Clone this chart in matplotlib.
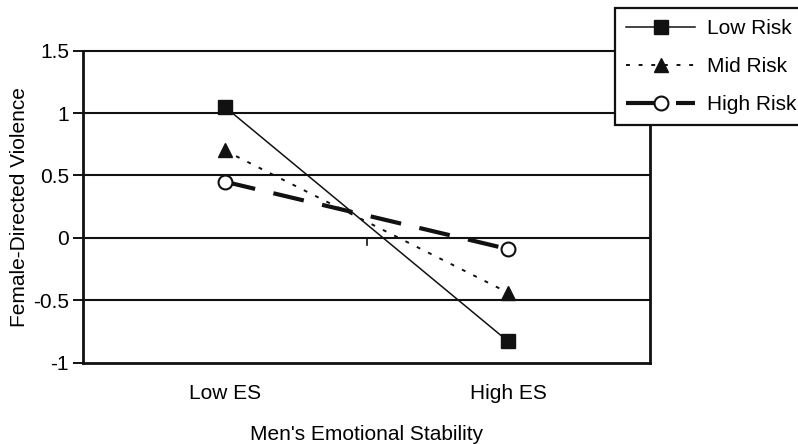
import matplotlib.pyplot as plt
import numpy as np

plt.rcParams['font.family'] = ['Liberation Sans', 'DejaVu Sans']

# данные графика
categories = ["Low ES", "High ES"]
low_risk = [1.05, -0.83]
mid_risk = [0.70, -0.44]
high_risk = [0.45, -0.09]
y_ticks = [-1, -0.5, 0, 0.5, 1, 1.5]
y_tick_labels = ["-1", "-0.5", "0", "0.5", "1", "1.5"]

fig = plt.figure(figsize=(7.98, 4.44), dpi=100)
ax = fig.add_axes([83 / 798, 1 - 362.7 / 444, 567 / 798, 312.1 / 444])

x = np.arange(len(categories)) + 0.5

# сетка и ось x на нуле
for yv in y_ticks[1:]:
    ax.axhline(yv, color='#111111', lw=1.5, zorder=1, clip_on=False)
ax.plot([1, 1], [0, -0.055], color='#111111', lw=1.2, clip_on=False, zorder=1)

# линии
ax.plot(x, low_risk, color='#111111', lw=1.1, marker='s', ms=10.5,
        mfc='#111111', mec='#111111', label="Low Risk", zorder=3)
ax.plot(x, mid_risk, color='#111111', lw=1.4, dashes=(2, 4.5), marker='^', ms=10.5,
        mfc='#111111', mec='#111111', label="Mid Risk", zorder=3)
ax.plot(x, high_risk, color='#111111', lw=3.0, dashes=(7.5, 4.5), marker='o', ms=10,
        mfc='white', mec='#111111', mew=1.5, label="High Risk", zorder=4)

ax.set_xlim(0, 2)
ax.set_ylim(-1, 1.5)
ax.set_xticks(x)
ax.set_xticklabels(categories, fontsize=15)
ax.tick_params(axis='x', length=0, pad=15)
ax.set_yticks(y_ticks)
ax.set_yticklabels(y_tick_labels, fontsize=15)
ax.tick_params(axis='y', length=7, width=1.4, color='#111111', pad=3)

for side in ['left', 'bottom', 'right']:
    ax.spines[side].set_linewidth(2.0)
    ax.spines[side].set_color('#111111')
ax.spines['top'].set_visible(False)

ax.set_xlabel("Men's Emotional Stability", fontsize=15, labelpad=16)
ax.set_ylabel("Female-Directed Violence", fontsize=15, labelpad=3)

leg = ax.legend(loc='upper left', bbox_to_anchor=(615 / 798, 1 - 8 / 444),
                bbox_transform=fig.transFigure, fontsize=15, frameon=True,
                fancybox=False, edgecolor='#111111', framealpha=1,
                handlelength=3.3, handletextpad=0.55, labelspacing=0.9,
                borderpad=0.55, borderaxespad=0, numpoints=1)
leg.get_frame().set_linewidth(1.6)

fig.savefig("out.png", dpi=100)
